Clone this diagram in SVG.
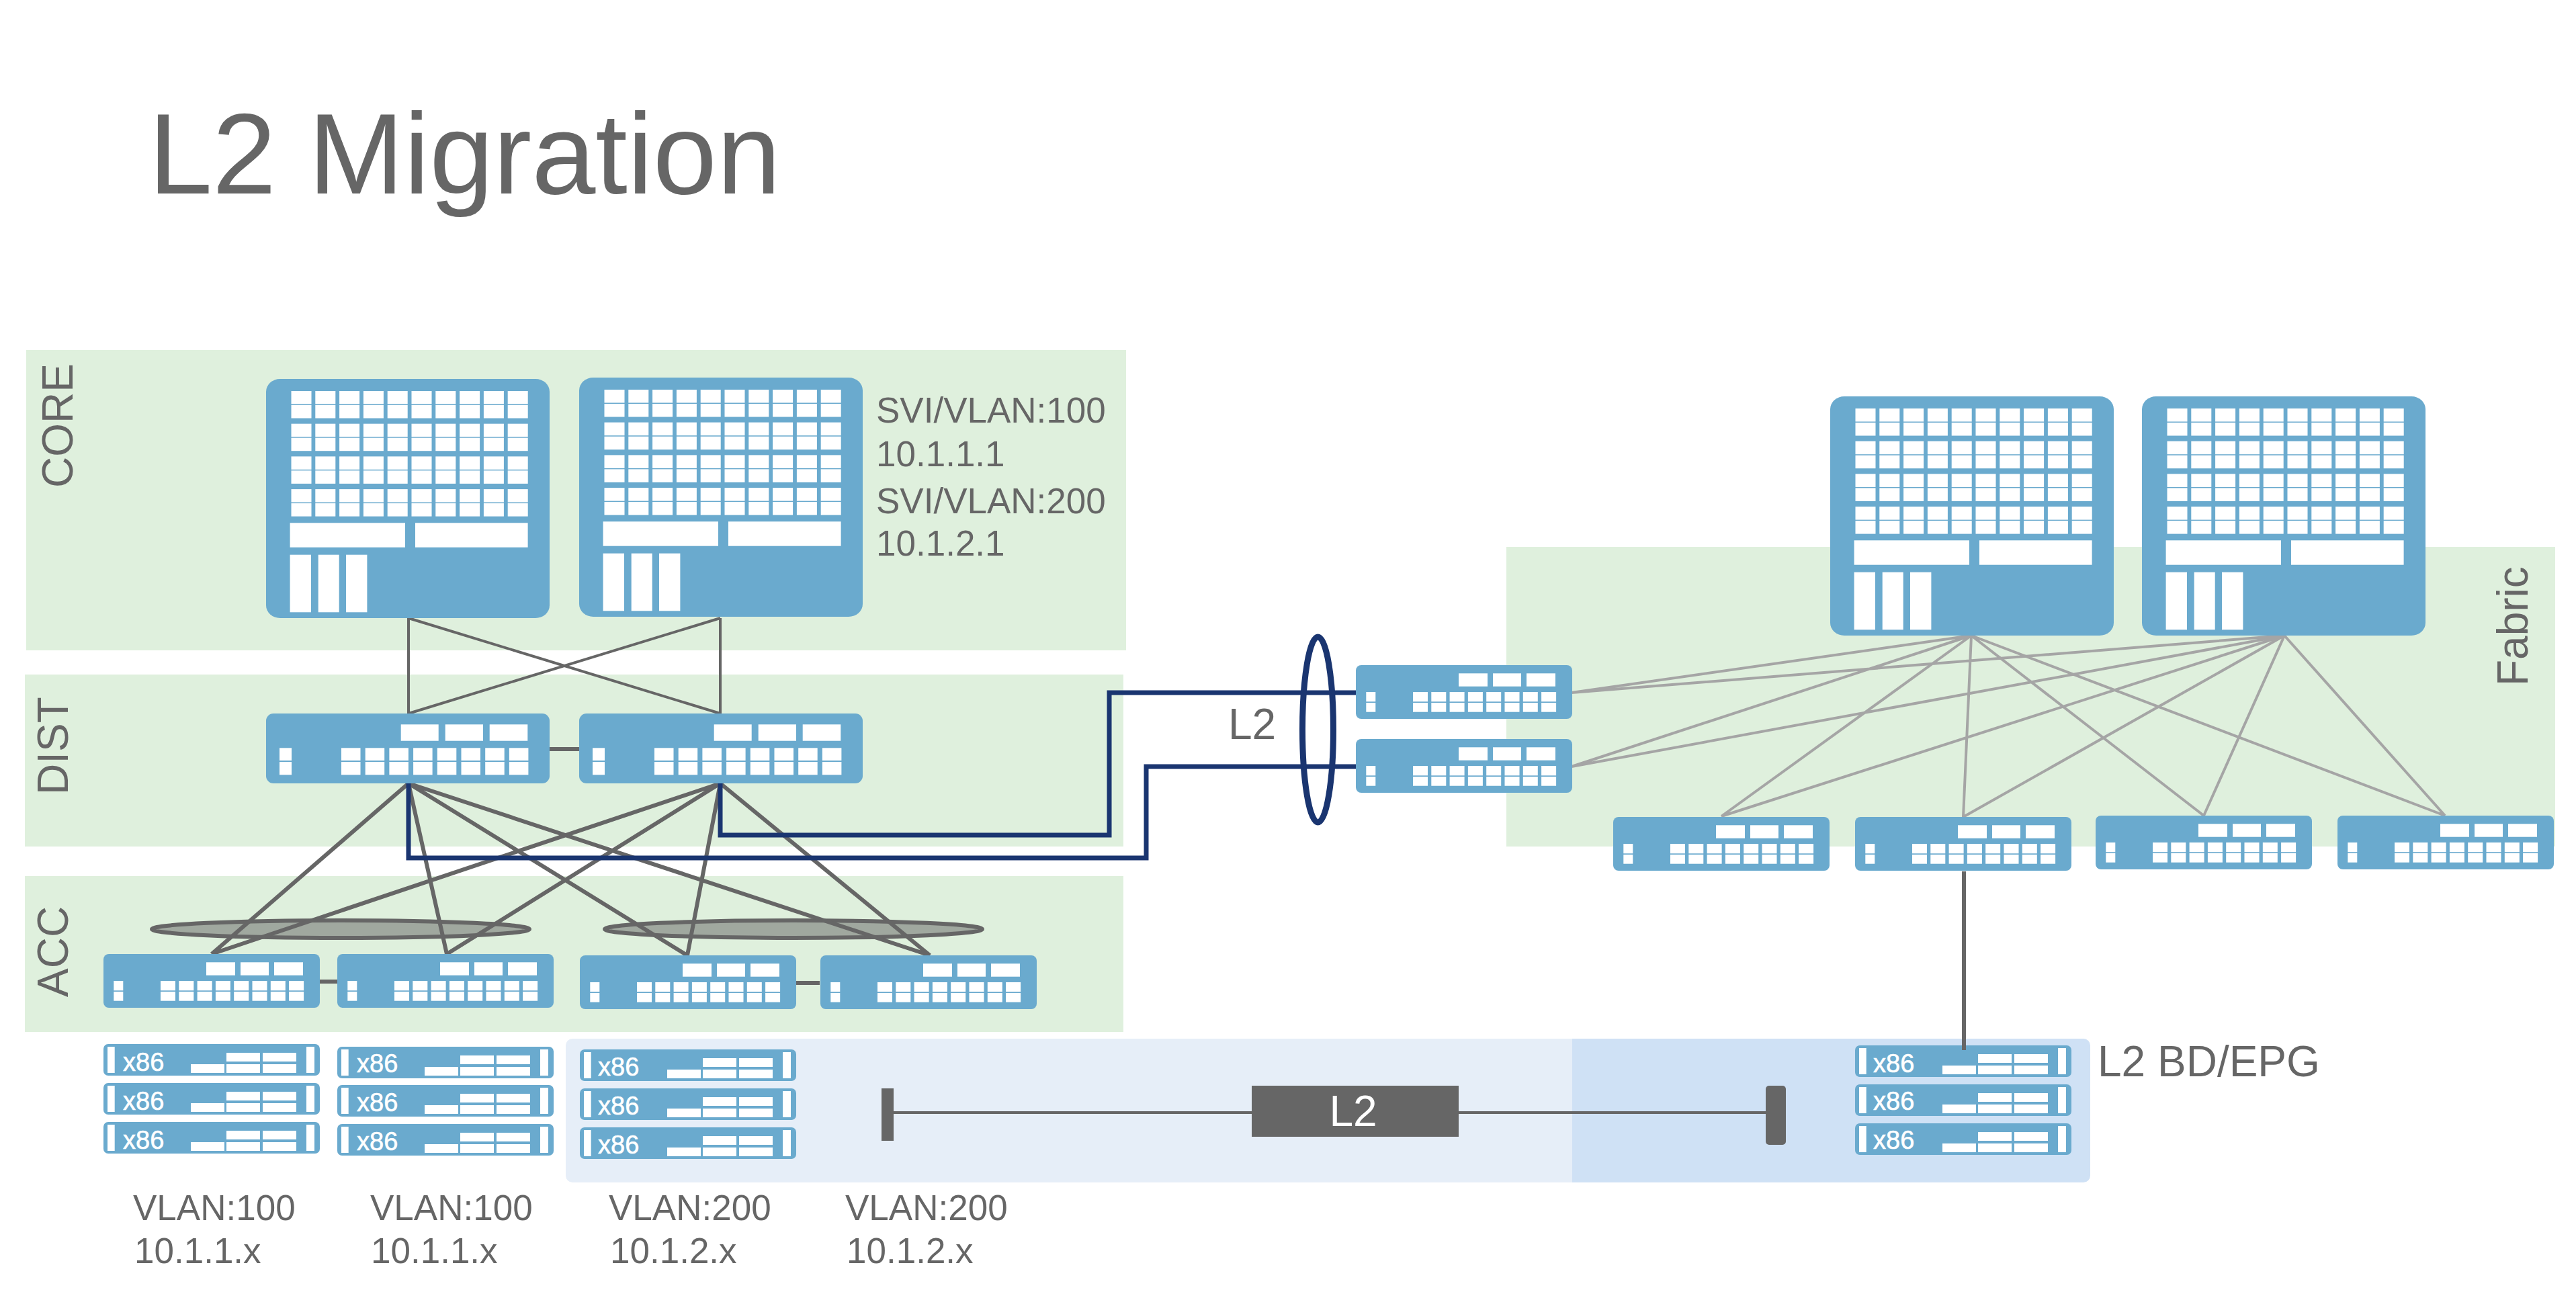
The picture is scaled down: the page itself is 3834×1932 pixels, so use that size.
<svg xmlns="http://www.w3.org/2000/svg" xmlns:xlink="http://www.w3.org/1999/xlink" width="3834" height="1932" viewBox="0 0 3834 1932">
<style>
text{font-family:"Liberation Sans",Arial,sans-serif;fill:#666}
.t53{font-size:53px}
.t62{font-size:64px}
.x86{font-size:38px;fill:#fff;stroke:#fff;stroke-width:.6}
.b{fill:#6aaace}
.w{fill:#fff}
.zone{fill:#dff0dd}
.l1{stroke:#666;stroke-width:4;fill:none}
.l2{stroke:#666;stroke-width:6;fill:none}
.l3{stroke:#a5a5a5;stroke-width:4;fill:none}
.n{stroke:#1a3570;stroke-width:7;fill:none}
.lag{fill:#a0a89f;stroke:#666;stroke-width:6}
.k{fill:#666}
</style>
<defs>
<g id="cc" class="w"><rect x="37.5" y="18" width="30" height="19.5"/><rect x="37.5" y="39" width="30" height="19.5"/></g>
<g id="cr"><use href="#cc"/><use href="#cc" x="35.8"/><use href="#cc" x="71.6"/><use href="#cc" x="107.4"/><use href="#cc" x="143.2"/><use href="#cc" x="179"/><use href="#cc" x="214.8"/><use href="#cc" x="250.6"/><use href="#cc" x="286.4"/><use href="#cc" x="322.2"/></g>
<g id="core"><rect class="b" width="422" height="356" rx="21" ry="19"/><use href="#cr"/><use href="#cr" y="48.7"/><use href="#cr" y="97.4"/><use href="#cr" y="146.1"/>
<g class="w"><rect x="35.6" y="214.3" width="171.4" height="36.4"/><rect x="222" y="214.3" width="167.6" height="36.4"/><rect x="35.6" y="261.7" width="31.4" height="85.6"/><rect x="77.7" y="261.7" width="31" height="85.6"/><rect x="119" y="261.7" width="31.4" height="85.6"/></g></g>
<g id="p1" class="w"><rect x="112" y="51.3" width="28.5" height="18.7"/><rect x="112" y="72" width="28.5" height="19.3"/></g>
<g id="dist"><rect class="b" width="422" height="104" rx="11"/><g class="w"><rect x="200.7" y="16.3" width="56" height="24.4"/><rect x="266.7" y="16.3" width="56.3" height="24.4"/><rect x="332.7" y="16.3" width="56.6" height="24.4"/><rect x="20" y="51.3" width="18" height="18.7"/><rect x="20" y="72" width="18" height="19.3"/></g>
<use href="#p1"/><use href="#p1" x="35.7"/><use href="#p1" x="71.4"/><use href="#p1" x="107.1"/><use href="#p1" x="142.8"/><use href="#p1" x="178.5"/><use href="#p1" x="214.2"/><use href="#p1" x="249.9"/></g>
<g id="p2" class="w"><rect x="85" y="40" width="22" height="14.3"/><rect x="85" y="56" width="22" height="13.7"/></g>
<g id="sw"><rect class="b" width="322" height="80" rx="8"/><g class="w"><rect x="153" y="12.3" width="43" height="19.4"/><rect x="204" y="12.3" width="42" height="19.4"/><rect x="254" y="12.3" width="43" height="19.4"/><rect x="15.3" y="40" width="14" height="14.3"/><rect x="15.3" y="56" width="14" height="13.7"/></g>
<use href="#p2"/><use href="#p2" x="27.3"/><use href="#p2" x="54.6"/><use href="#p2" x="81.9"/><use href="#p2" x="109.2"/><use href="#p2" x="136.5"/><use href="#p2" x="163.8"/><use href="#p2" x="191.1"/></g>
<g id="srv"><rect class="b" width="322" height="47" rx="7"/><g class="w"><rect x="6" y="4" width="10.7" height="39"/><rect x="302" y="4" width="12" height="39"/><rect x="130" y="30" width="50" height="13"/><rect x="183" y="13" width="50" height="13"/><rect x="183" y="30" width="50" height="13"/><rect x="237" y="13" width="50" height="13"/><rect x="237" y="30" width="50" height="13"/></g></g>
</defs>
<rect width="3834" height="1932" fill="#fff"/>
<g id="zones">
<rect class="zone" x="39" y="521" width="1637" height="447"/>
<rect class="zone" x="37" y="1004" width="1635" height="256"/>
<rect class="zone" x="37" y="1304" width="1635" height="232"/>
<rect class="zone" x="2242" y="814" width="1561" height="446"/>
<path fill="#e6eef8" d="M852 1546H2340V1760H852a10 10 0 0 1-10-10V1556a10 10 0 0 1 10-10z"/>
<path fill="#cfe1f5" d="M2340 1546H3101a10 10 0 0 1 10 10V1750a10 10 0 0 1-10 10H2340z"/>
</g>
<text class="t62" transform="translate(108 726) rotate(-90)">CORE</text>
<text class="t62" transform="translate(101 1183) rotate(-90)">DIST</text>
<text class="t62" transform="translate(101 1484) rotate(-90)">ACC</text>
<text class="t62" transform="translate(3762 1021) rotate(-90)">Fabric</text>
<text x="221" y="288" font-size="171">L2 Migration</text>
<g id="svi-labels" class="t53">
<text x="1304" y="629">SVI/VLAN:100</text>
<text x="1304" y="694">10.1.1.1</text>
<text x="1304" y="764">SVI/VLAN:200</text>
<text x="1304" y="827">10.1.2.1</text>
</g>
<g id="vlan-labels" class="t53">
<text x="198" y="1816">VLAN:100</text><text x="200" y="1880">10.1.1.x</text>
<text x="551" y="1816">VLAN:100</text><text x="552" y="1880">10.1.1.x</text>
<text x="906" y="1816">VLAN:200</text><text x="908" y="1880">10.1.2.x</text>
<text x="1258" y="1816">VLAN:200</text><text x="1260" y="1880">10.1.2.x</text>
</g>
<text x="3122" y="1602" font-size="64">L2 BD/EPG</text>
<text x="1828" y="1100" font-size="64">L2</text>
<g id="lags">
<ellipse class="lag" cx="507" cy="1383" rx="281" ry="13"/>
<ellipse class="lag" cx="1181" cy="1383" rx="281" ry="13"/>
</g>
<g id="connectors">
<path class="l1" d="M608 920V1062M1072 920V1062M608 920L1072 1062M1072 920L608 1062"/>
<path class="l2" d="M817 1115H862M476 1461H502M1184 1463H1220"/>
<path class="l2" d="M608 1166L315 1420M608 1166L665 1420M608 1166L1023 1422M608 1166L1384 1422M1072 1166L315 1420M1072 1166L665 1420M1072 1166L1023 1422M1072 1166L1384 1422"/>
<path class="l3" d="M2934 946L2339 1031M2934 946L2339 1141M2934 946L2562 1215M2934 946L2922 1216M2934 946L3280 1214M2934 946L3639 1214M3400 946L2339 1031M3400 946L2339 1141M3400 946L2562 1215M3400 946L2922 1216M3400 946L3280 1214M3400 946L3639 1214"/>
<path class="n" d="M2018 1031H1651V1243H1072V1166"/>
<path class="n" d="M2018 1141H1706V1277H608V1166"/>
<ellipse cx="1961.5" cy="1086" rx="23" ry="138" fill="none" stroke="#1a3570" stroke-width="9"/>
<path class="l1" d="M1330 1656H1863M2171 1656H2628"/>
</g>
<g id="core1"><use href="#core" x="396" y="564"/></g>
<g id="core2"><use href="#core" x="862" y="562"/></g>
<g id="core3"><use href="#core" x="2724" y="590"/></g>
<g id="core4"><use href="#core" x="3188" y="590"/></g>
<g id="dist1"><use href="#dist" x="396" y="1062"/></g>
<g id="dist2"><use href="#dist" x="862" y="1062"/></g>
<g id="acc1"><use href="#sw" x="154" y="1420"/></g>
<g id="acc2"><use href="#sw" x="502" y="1420"/></g>
<g id="acc3"><use href="#sw" x="863" y="1422"/></g>
<g id="acc4"><use href="#sw" x="1221" y="1422"/></g>
<g id="border1"><use href="#sw" x="2018" y="990"/></g>
<g id="border2"><use href="#sw" x="2018" y="1100"/></g>
<g id="leaf1"><use href="#sw" x="2401" y="1216"/></g>
<g id="leaf2"><use href="#sw" x="2761" y="1216"/></g>
<g id="leaf3"><use href="#sw" x="3119" y="1214"/></g>
<g id="leaf4"><use href="#sw" x="3479" y="1214"/></g>
<g id="srv-a1"><use href="#srv" x="154" y="1554"/><text class="x86" x="183" y="1594">x86</text></g>
<g id="srv-a2"><use href="#srv" x="154" y="1612"/><text class="x86" x="183" y="1652">x86</text></g>
<g id="srv-a3"><use href="#srv" x="154" y="1670"/><text class="x86" x="183" y="1710">x86</text></g>
<g id="srv-b1"><use href="#srv" x="502" y="1558"/><text class="x86" x="531" y="1596">x86</text></g>
<g id="srv-b2"><use href="#srv" x="502" y="1615"/><text class="x86" x="531" y="1654">x86</text></g>
<g id="srv-b3"><use href="#srv" x="502" y="1673"/><text class="x86" x="531" y="1712">x86</text></g>
<g id="srv-c1"><use href="#srv" x="863" y="1562"/><text class="x86" x="890" y="1601">x86</text></g>
<g id="srv-c2"><use href="#srv" x="863" y="1620"/><text class="x86" x="890" y="1659">x86</text></g>
<g id="srv-c3"><use href="#srv" x="863" y="1678"/><text class="x86" x="890" y="1717">x86</text></g>
<g id="srv-d1"><use href="#srv" x="2761" y="1556"/><text class="x86" x="2788" y="1596">x86</text></g>
<g id="srv-d2"><use href="#srv" x="2761" y="1614"/><text class="x86" x="2788" y="1652">x86</text></g>
<g id="srv-d3"><use href="#srv" x="2761" y="1672"/><text class="x86" x="2788" y="1710">x86</text></g>
<path class="l2" d="M2923 1297V1563"/>
<g id="l2-segment">
<rect class="k" x="1312" y="1620" width="18" height="78"/>
<rect class="k" x="2628" y="1616" width="30" height="88" rx="5"/>
<rect class="k" x="1863" y="1616" width="308" height="76"/>
<text x="2014" y="1676" font-size="64" text-anchor="middle" style="fill:#fff">L2</text>
</g>
</svg>
